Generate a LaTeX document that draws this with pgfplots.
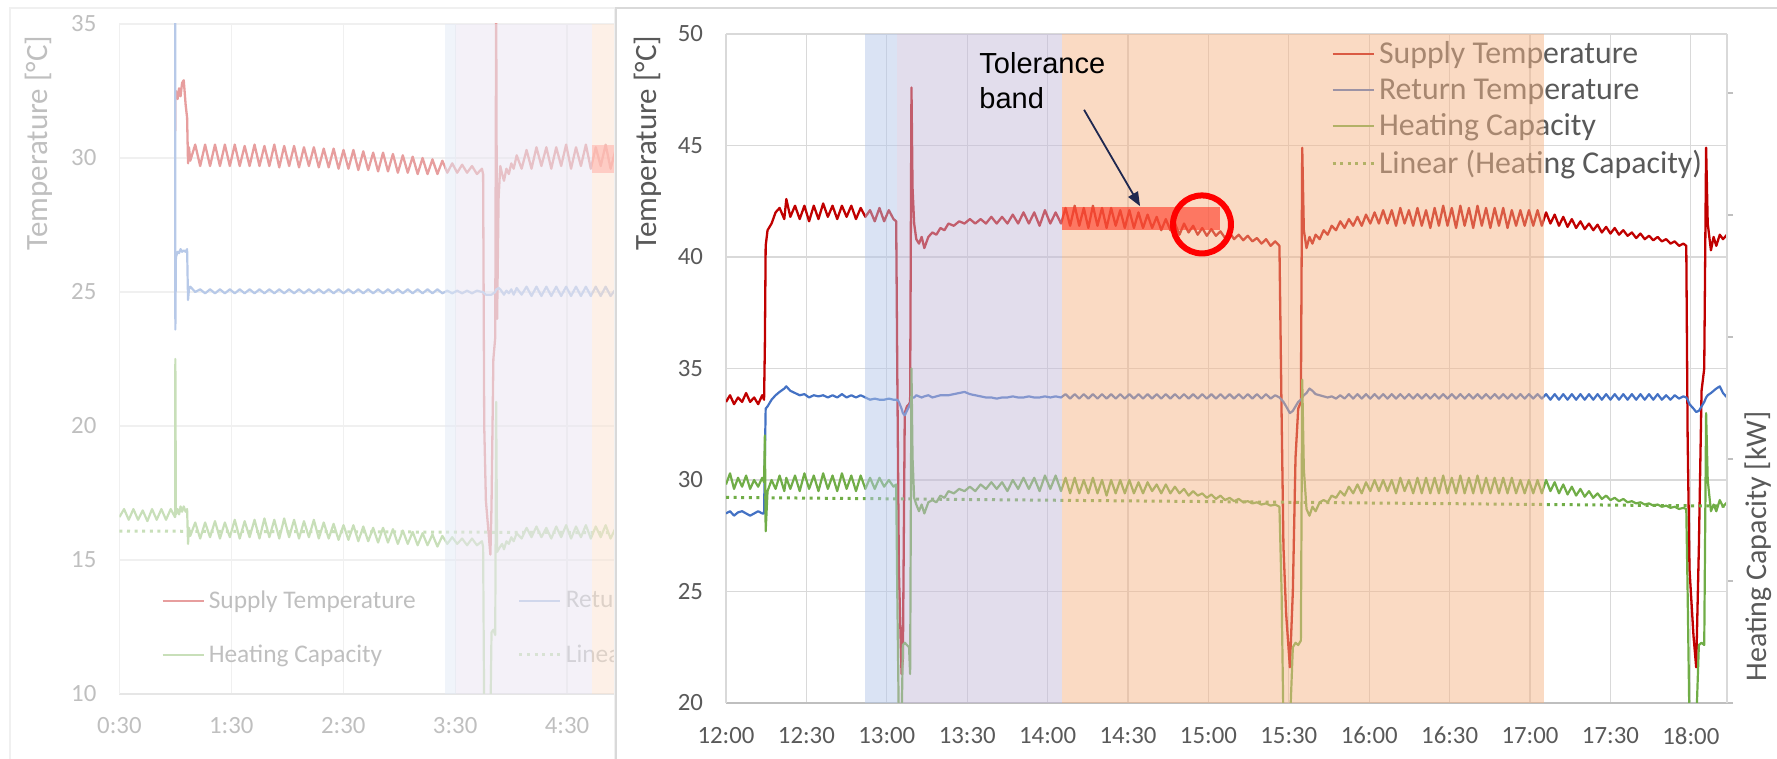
\documentclass[border=0pt]{standalone}
\usepackage{pgfplots}
\pgfplotsset{compat=1.18}
\usepackage{pgfplotstable}
\usepackage{fontspec}
\setmainfont{Carlito}
\newfontfamily\arial{Liberation Sans}
\usetikzlibrary{arrows.meta}

\definecolor{sup}{HTML}{C00000}
\definecolor{ret}{HTML}{4472C4}
\definecolor{hc}{HTML}{70AD47}
\definecolor{gridc}{HTML}{D9D9D9}
\definecolor{axc}{HTML}{BFBFBF}
\definecolor{txt}{HTML}{595959}
\definecolor{ovB}{RGB}{181,199,233}
\definecolor{ovP}{RGB}{197,187,217}
\definecolor{ovO}{RGB}{245,181,135}
\definecolor{tol}{RGB}{255,60,40}
\definecolor{navy}{RGB}{31,40,80}

% right panel data: minutes after 12:00, supply, return, heating capacity (drawn on temperature scale)
\pgfplotstableread{
t s r h
0.0 33.5 28.5 29.8
1.5 33.8 28.6 30.3
3.0 33.4 28.4 29.6
4.5 33.7 28.55 30.1
6.0 33.5 28.6 29.7
7.5 33.9 28.5 30.2
9.0 33.5 28.4 29.6
10.5 33.7 28.5 30.0
12.0 33.4 28.6 29.7
13.5 33.8 28.5 30.1
14.2 33.6 28.5 29.9
14.5 36.0 31.0 32.0
14.8 40.5 33.2 27.7
15.5 41.2 33.3 29.5
17.0 41.5 33.6 30.0
18.5 42.0 33.8 29.6
20.0 42.2 33.95 30.2
21.75 41.7 34.1 29.5
22.5 42.6 34.2 30.1
24.0 41.8 34.0 29.6
25.75 42.3 33.9 30.2
27.5 41.7 33.8 29.5
29.25 42.3 33.85 30.3
31.0 41.6 33.7 29.6
32.75 42.3 33.8 30.2
34.5 41.7 33.75 29.5
36.25 42.4 33.8 30.3
38.0 41.8 33.7 29.6
39.75 42.3 33.8 30.2
41.5 41.7 33.7 29.5
43.25 42.3 33.85 30.3
45.0 41.8 33.7 29.6
46.75 42.3 33.8 30.2
48.5 41.7 33.7 29.5
50.25 42.2 33.8 30.2
52.0 41.8 33.7 29.6
53.75 42.1 33.6 30.1
55.5 41.6 33.65 29.6
57.25 42.2 33.6 30.1
59.0 41.6 33.6 29.7
60.75 42.1 33.65 30.0
62.5 41.7 33.6 29.7
63.5 41.6 33.6 29.8
63.9 35.0 33.6 25.0
64.5 26.0 33.5 19.0
65.5 21.3 33.2 19.0
66.0 22.0 33.0 22.6
66.7 33.0 32.9 22.7
67.5 33.3 33.1 22.6
68.3 33.4 33.3 22.5
68.7 33.5 33.4 21.3
69.2 47.6 33.6 35.0
69.6 43.1 33.7 31.0
70.2 41.5 33.7 29.2
71.0 40.8 33.8 28.9
72.0 40.6 33.75 28.6
73.0 40.9 33.7 28.9
74.0 40.4 33.75 28.5
75.5 40.9 33.8 29.0
77.0 41.1 33.7 29.1
78.5 41.0 33.75 29.0
80.0 41.3 33.8 29.3
81.5 41.2 33.8 29.2
83.0 41.5 33.8 29.5
85.0 41.4 33.85 29.4
87.0 41.6 33.9 29.6
89.0 41.5 33.95 29.5
91.0 41.7 33.85 29.7
93.0 41.5 33.8 29.5
95.0 41.7 33.75 29.8
97.0 41.5 33.7 29.6
99.0 41.8 33.7 29.9
101.0 41.5 33.65 29.6
103.0 41.8 33.7 29.9
105.0 41.5 33.7 29.5
107.0 41.9 33.75 30.0
109.0 41.5 33.7 29.6
111.0 42.0 33.7 30.1
113.0 41.5 33.75 29.6
115.0 42.0 33.7 30.1
117.0 41.4 33.7 29.5
119.0 42.1 33.75 30.2
121.0 41.5 33.7 29.6
123.0 42.0 33.75 30.2
125.0 41.5 33.7 29.5
126.7 42.2 33.85 30.1
128.4 41.4 33.65 29.4
130.1 42.3 33.85 30.1
131.8 41.4 33.65 29.4
133.5 42.2 33.85 30.0
135.2 41.3 33.65 29.4
136.9 42.3 33.85 30.1
138.6 41.4 33.65 29.4
140.3 42.2 33.85 30.0
142.0 41.3 33.65 29.3
143.7 42.2 33.85 30.0
145.4 41.4 33.65 29.4
147.1 42.1 33.85 30.0
148.8 41.3 33.65 29.4
150.5 42.1 33.85 30.0
152.2 41.3 33.65 29.4
153.9 42.0 33.85 29.9
155.6 41.3 33.65 29.4
157.3 41.9 33.85 29.9
159.0 41.3 33.65 29.5
160.7 41.8 33.85 29.8
162.4 41.2 33.65 29.4
164.1 41.7 33.85 29.8
165.8 41.2 33.65 29.4
167.5 41.5 33.85 29.7
169.2 41.0 33.65 29.4
170.9 41.5 33.85 29.6
172.6 41.1 33.65 29.3
174.3 41.4 33.85 29.5
176.0 41.0 33.65 29.3
177.7 41.3 33.85 29.4
179.4 40.95 33.65 29.2
181.1 41.25 33.85 29.35
182.8 40.95 33.65 29.15
184.5 41.15 33.85 29.3
186.2 40.85 33.65 29.1
187.9 41.1 33.85 29.2
189.6 40.8 33.65 29.05
191.3 41.0 33.85 29.15
193.0 40.75 33.65 29.0
194.7 40.95 33.85 29.05
196.4 40.7 33.65 28.95
198.1 40.85 33.85 29.0
199.8 40.6 33.65 28.9
201.5 40.8 33.85 28.95
203.2 40.5 33.65 28.85
204.9 40.7 33.8 28.9
206.5 40.5 33.7 28.8
207.3 33.0 33.6 25.0
208.0 27.0 33.5 19.0
209.0 24.0 33.3 19.0
210.4 21.6 33.0 19.0
211.5 25.0 33.1 22.5
212.5 31.0 33.3 22.7
213.5 33.2 33.5 22.6
214.5 33.5 33.6 22.8
215.0 44.9 33.7 34.5
215.6 41.2 33.8 30.5
216.6 40.4 33.9 28.7
217.7 40.9 34.1 28.4
218.8 40.6 34.0 28.8
220.0 41.0 33.85 28.6
221.5 40.8 33.8 29.0
223.0 41.2 33.75 29.1
224.5 41.0 33.7 29.0
226.0 41.4 33.75 29.3
227.6 41.2 33.65 29.2
229.2 41.6 33.8 29.5
230.8 41.3 33.65 29.3
232.4 41.7 33.85 29.7
234.0 41.4 33.65 29.4
235.6 41.8 33.85 29.8
237.2 41.4 33.65 29.4
238.8 41.9 33.85 29.9
240.4 41.5 33.65 29.5
242.0 42.0 33.85 30.0
243.6 41.5 33.65 29.5
245.2 42.1 33.85 30.0
246.8 41.5 33.65 29.5
248.4 42.1 33.85 30.0
250.0 41.4 33.65 29.4
251.6 42.2 33.85 30.1
253.2 41.5 33.65 29.5
254.8 42.1 33.85 30.0
256.4 41.4 33.65 29.4
258.0 42.2 33.85 30.1
259.6 41.4 33.65 29.4
261.2 42.1 33.85 30.1
262.8 41.3 33.65 29.4
264.4 42.2 33.85 30.1
266.0 41.4 33.65 29.4
267.6 42.3 33.85 30.2
269.2 41.4 33.65 29.4
270.8 42.2 33.85 30.1
272.4 41.3 33.65 29.4
274.0 42.3 33.85 30.2
275.6 41.4 33.65 29.4
277.2 42.2 33.85 30.1
278.8 41.3 33.65 29.4
280.4 42.3 33.85 30.2
282.0 41.4 33.65 29.4
283.6 42.2 33.85 30.1
285.2 41.3 33.65 29.4
286.8 42.2 33.85 30.1
288.4 41.4 33.65 29.4
290.0 42.2 33.85 30.1
291.6 41.3 33.65 29.4
293.2 42.1 33.85 30.1
294.8 41.4 33.65 29.4
296.4 42.1 33.85 30.0
298.0 41.4 33.65 29.4
299.6 42.1 33.85 30.0
301.2 41.4 33.65 29.4
302.8 42.1 33.85 30.0
304.4 41.4 33.65 29.4
306.0 42.0 33.85 30.0
307.6 41.5 33.6 29.5
309.2 41.9 33.85 29.9
310.8 41.4 33.6 29.4
312.4 41.8 33.85 29.8
314.0 41.35 33.6 29.35
315.6 41.7 33.85 29.7
317.2 41.3 33.6 29.3
318.8 41.6 33.85 29.6
320.4 41.25 33.6 29.25
322.0 41.5 33.85 29.5
323.6 41.2 33.6 29.2
325.2 41.45 33.85 29.4
326.8 41.1 33.6 29.15
328.4 41.35 33.85 29.3
330.0 41.05 33.6 29.1
331.6 41.3 33.85 29.2
333.2 41.0 33.6 29.05
334.8 41.2 33.85 29.15
336.4 40.95 33.6 29.0
338.0 41.1 33.85 29.05
339.6 40.85 33.6 28.95
341.2 41.05 33.85 29.0
342.8 40.8 33.6 28.9
344.4 40.95 33.85 28.95
346.0 40.75 33.6 28.85
347.6 40.9 33.85 28.9
349.2 40.7 33.6 28.8
350.8 40.8 33.8 28.85
352.4 40.6 33.6 28.75
354.0 40.7 33.8 28.8
355.6 40.5 33.65 28.7
357.2 40.6 33.75 28.75
358.3 40.5 33.7 28.7
358.8 32.0 33.6 25.0
359.5 26.0 33.4 19.0
361.0 23.0 33.2 19.0
362.0 21.6 33.05 19.0
363.0 27.0 33.1 22.6
364.0 34.0 33.3 22.7
365.0 35.0 33.5 22.6
365.7 44.9 33.7 33.0
366.3 41.5 33.8 30.0
367.5 40.3 33.9 28.6
368.5 40.9 34.0 28.9
369.5 40.5 34.1 28.6
370.8 41.0 34.2 29.1
372.0 40.8 33.9 28.8
373.5 41.0 33.7 29.0
}\rdata

% left panel data: minutes after 0:00
\pgfplotstableread{
t s r h
30.0 nan nan 16.6
32.5 nan nan 16.9
35.0 nan nan 16.5
37.5 nan nan 16.9
40.0 nan nan 16.5
42.5 nan nan 16.85
45.0 nan nan 16.45
47.5 nan nan 16.9
50.0 nan nan 16.5
52.5 nan nan 16.9
55.0 nan nan 16.5
57.5 nan nan 16.9
59.8 nan nan 16.6
59.9 31.0 35.5 16.6
60.0 32.4 23.6 22.5
60.3 32.5 26.3 16.7
61.2 32.2 26.5 16.9
62.0 32.6 26.45 16.7
62.8 32.3 26.6 17.0
63.6 32.8 26.5 16.8
64.5 32.9 26.55 17.0
65.5 32.0 26.5 16.8
66.3 31.5 26.6 16.9
66.8 29.8 24.7 15.6
67.3 30.4 25.1 16.2
68.0 29.9 25.2 15.9
70.65 30.5 25.0 16.4
73.3 29.7 25.1 15.8
75.95 30.5 24.95 16.4
78.6 29.7 25.1 15.85
81.25 30.5 24.95 16.45
83.9 29.7 25.1 15.8
86.55 30.5 24.95 16.4
89.2 29.7 25.1 15.85
91.85 30.5 24.95 16.5
94.5 29.7 25.1 15.8
97.15 30.45 24.95 16.45
99.8 29.7 25.1 15.85
102.45 30.5 24.95 16.5
105.1 29.7 25.1 15.8
107.75 30.45 24.95 16.55
110.4 29.7 25.1 15.85
113.05 30.5 24.95 16.5
115.7 29.65 25.1 15.8
118.35 30.45 24.95 16.55
121.0 29.7 25.1 15.85
123.65 30.45 24.95 16.5
126.3 29.65 25.1 15.8
128.95 30.4 24.95 16.45
131.6 29.7 25.1 15.85
134.25 30.4 24.95 16.5
136.9 29.65 25.1 15.8
139.55 30.35 24.95 16.4
142.2 29.65 25.1 15.8
144.85 30.35 24.95 16.35
147.5 29.6 25.1 15.75
150.15 30.3 24.95 16.3
152.8 29.6 25.1 15.75
155.45 30.3 24.95 16.3
158.1 29.55 25.1 15.7
160.75 30.25 24.95 16.25
163.4 29.55 25.1 15.7
166.05 30.2 24.95 16.2
168.7 29.5 25.1 15.65
171.35 30.2 24.95 16.2
174.0 29.5 25.1 15.65
176.65 30.15 24.95 16.15
179.3 29.45 25.1 15.6
181.95 30.1 24.95 16.1
184.6 29.45 25.1 15.6
187.25 30.05 24.95 16.05
189.9 29.4 25.1 15.55
192.55 30.0 24.95 16.0
195.2 29.4 25.1 15.55
197.85 29.95 24.95 15.95
200.5 29.4 25.1 15.5
203.15 29.9 24.95 15.9
205.8 29.45 25.05 15.6
208.45 29.8 24.95 15.85
211.1 29.45 25.05 15.6
213.75 29.75 24.95 15.8
216.4 29.45 25.05 15.55
219.05 29.7 24.95 15.8
221.7 29.4 25.05 15.55
224.35 29.6 25.0 15.7
225.0 29.4 25.0 15.5
225.6 20.0 24.95 9.0
226.5 17.2 24.9 9.0
228.9 15.2 24.9 9.0
229.5 17.0 24.9 12.3
230.5 22.5 24.95 12.4
231.5 23.3 25.0 12.2
232.0 36.0 25.1 20.9
232.5 24.0 25.1 15.3
233.3 28.5 25.15 15.4
234.2 29.7 25.1 15.5
235.2 29.4 25.0 15.6
236.2 29.15 24.9 15.4
237.5 29.6 25.05 15.7
238.8 29.4 24.95 15.6
240.1 29.8 25.1 15.85
241.4 29.6 24.9 15.7
243.0 30.1 25.15 16.0
245.65 29.6 24.9 15.8
248.3 30.3 25.2 16.2
250.95 29.6 24.85 15.85
253.6 30.4 25.2 16.25
256.25 29.7 24.85 15.85
258.9 30.4 25.2 16.2
261.55 29.6 24.85 15.8
264.2 30.4 25.2 16.25
266.85 29.7 24.85 15.85
269.5 30.5 25.2 16.3
272.15 29.6 24.85 15.8
274.8 30.4 25.2 16.25
277.45 29.7 24.85 15.85
280.1 30.5 25.2 16.3
282.75 29.6 24.85 15.8
285.4 30.4 25.2 16.25
288.05 29.7 24.85 15.85
290.7 30.5 25.2 16.3
293.35 29.6 24.85 15.8
296.0 30.3 25.1 16.2
}\ldata

\pgfplotsset{
  panel/.style={
    scale only axis,
    axis x line*=bottom, axis y line*=left,
    x axis line style={draw=axc, line width=0.8pt},
    y axis line style={draw=gridc, line width=0.6pt},
    grid=major, grid style={draw=gridc, line width=0.6pt},
    major tick style={draw=none},
    ticklabel style={text=txt, font=\fontsize{12.4}{14}\selectfont},
    /pgf/number format/assume math mode=true,
    unbounded coords=jump,
    legend cell align=left,
    legend image code/.code={\draw[##1] (0pt,0pt) -- (20.5pt,0pt);},
  },
  sline/.style={sup, line width=1.15pt, line join=round},
  rline/.style={ret, line width=1.1pt, line join=round},
  hline/.style={hc, line width=1.1pt, line join=round},
  tline/.style={hc, line width=1.5pt, dash pattern=on 1.5pt off 2.3pt},
}

\begin{document}
\begin{tikzpicture}

%================= LEFT (faded) PANEL =================
\begin{scope}
\clip (0pt,0pt) rectangle (307.5pt,379.5pt);
\begin{axis}[panel,
  at={(59.7pt,32.5pt)}, anchor=south west,
  width=247.6pt, height=335pt,
  xmin=30, xmax=295.5, ymin=10, ymax=35,
  xtick={30,90,150,210,270},
  xticklabels={0:30,1:30,2:30,3:30,4:30},
  ytick={10,15,20,25,30,35},
  xticklabel style={yshift=-8pt},
  yticklabel style={xshift=-8pt},
  legend columns=2,
  legend style={at={(0.072,0.167)}, anchor=north west, draw=none, fill=none,
    font=\fontsize{12.7}{15}\selectfont, text=txt, row sep=12.5pt,
    /tikz/every even column/.append style={column sep=49pt}},
]
\addplot[sline] table[x=t,y=s]{\ldata}; \addlegendentry{Supply Temperature}
\addplot[rline] table[x=t,y=r]{\ldata}; \addlegendentry{Return Temperature}
\addplot[hline] table[x=t,y=h]{\ldata}; \addlegendentry{Heating Capacity}
\addplot[tline] coordinates {(30,16.08) (295.5,16.02)}; \addlegendentry{Linear (Heating Capacity)}
\coordinate (LbA) at (axis cs:204.5,10); \coordinate (LbB) at (axis cs:210.4,35);
\coordinate (LpB) at (axis cs:283.3,35);
\coordinate (LoA) at (axis cs:283.3,10); \coordinate (LoB) at (axis cs:295.5,35);
\coordinate (LtA) at (axis cs:283.3,29.45); \coordinate (LtB) at (axis cs:295.5,30.5);
\end{axis}
\fill[ovB, opacity=0.5] (LbA) rectangle (LbB);
\fill[ovP, opacity=0.5] (LbA-|LbB) rectangle (LpB);
\fill[ovO, opacity=0.5] (LoA) rectangle (LoB);
\fill[tol, opacity=0.6] (LtA) rectangle (LtB);
\node[rotate=90, text=txt, font=\fontsize{15.5}{18}\selectfont] at (19.3pt,308pt) {Temperature [°C]};
\draw[gridc, line width=1pt] (5pt,-2pt) -- (5pt,375.5pt) -- (307.5pt,375.5pt) -- (307.5pt,-2pt);
\fill[white, opacity=0.62] (0pt,0pt) rectangle (307.5pt,379.5pt);
\end{scope}

%================= RIGHT PANEL =================
\draw[gridc, line width=1pt] (308pt,-2pt) -- (308pt,375.5pt) -- (890pt,375.5pt);

\begin{axis}[panel,
  at={(363pt,28pt)}, anchor=south west,
  width=500.5pt, height=334.5pt,
  xmin=0, xmax=373.5, ymin=20, ymax=50,
  xtick={0,30,...,360},
  xticklabels={12:00,12:30,13:00,13:30,14:00,14:30,15:00,15:30,16:00,16:30,17:00,17:30,18:00},
  ytick={20,25,...,50},
  xticklabel style={yshift=-8.5pt},
  yticklabel style={xshift=-8pt},
  legend style={at={(0.598,1.001)}, anchor=north west, draw=none, fill=none,
    font=\fontsize{15.9}{18}\selectfont, text=txt, row sep=1.9pt},
]
\addplot[sline] table[x=t,y=s]{\rdata}; \addlegendentry{Supply Temperature}
\addplot[rline] table[x=t,y=r]{\rdata}; \addlegendentry{Return Temperature}
\addplot[hline] table[x=t,y=h]{\rdata}; \addlegendentry{Heating Capacity}
\addplot[tline] coordinates {(0,29.22) (373.5,28.83)}; \addlegendentry{Linear (Heating Capacity)}
\coordinate (RbA) at (axis cs:51.7,20); \coordinate (RbB) at (axis cs:63.8,50);
\coordinate (RpB) at (axis cs:125.2,50);
\coordinate (RoA) at (axis cs:125.2,20); \coordinate (RoB) at (axis cs:305.2,50);
\coordinate (RtA) at (axis cs:125.2,41.2); \coordinate (RtB) at (axis cs:184.3,42.25);
\coordinate (Circ) at (axis cs:177.6,41.46);
\coordinate (ArA) at (axis cs:133.6,46.6); \coordinate (ArB) at (axis cs:154.5,42.28);
\coordinate (TolT) at (axis cs:94.4,49.2);
\end{axis}

% secondary (heating capacity) axis on the right
\begin{axis}[scale only axis,
  at={(363pt,28pt)}, anchor=south west,
  width=500.5pt, height=334.5pt,
  xmin=0, xmax=373.5, ymin=0, ymax=5.484,
  axis x line=none, axis y line*=right,
  y axis line style={draw=gridc, line width=0.8pt},
  ytick={0,1,2,3,4,5}, yticklabels={},
  tick align=outside, major tick length=3pt,
  major tick style={draw=axc, line width=0.8pt},
]
\end{axis}

\fill[ovB, opacity=0.5] (RbA) rectangle (RbB);
\fill[ovP, opacity=0.5] (RbA-|RbB) rectangle (RpB);
\fill[ovO, opacity=0.5] (RoA) rectangle (RoB);
\fill[tol, opacity=0.62] (RtA) rectangle (RtB);
\draw[red, line width=3pt] (Circ) circle[radius=14.5pt];
\draw[navy, line width=0.9pt, -{Triangle[length=7pt,width=5.5pt]}] (ArA) -- (ArB);
\node[anchor=north west, inner sep=0pt, align=left, font=\arial\fontsize{14.5}{17.5}\selectfont] at (TolT) {Tolerance\\band};

\node[rotate=90, text=txt, font=\fontsize{15.5}{18}\selectfont] at (323.8pt,308pt) {Temperature [°C]};
\node[rotate=90, text=txt, font=\fontsize{15}{18}\selectfont] at (879pt,106.3pt) {Heating Capacity [kW]};

\pgfresetboundingbox
\path[use as bounding box] (0pt,0pt) rectangle (888.5pt,379.5pt);
\end{tikzpicture}
\end{document}
